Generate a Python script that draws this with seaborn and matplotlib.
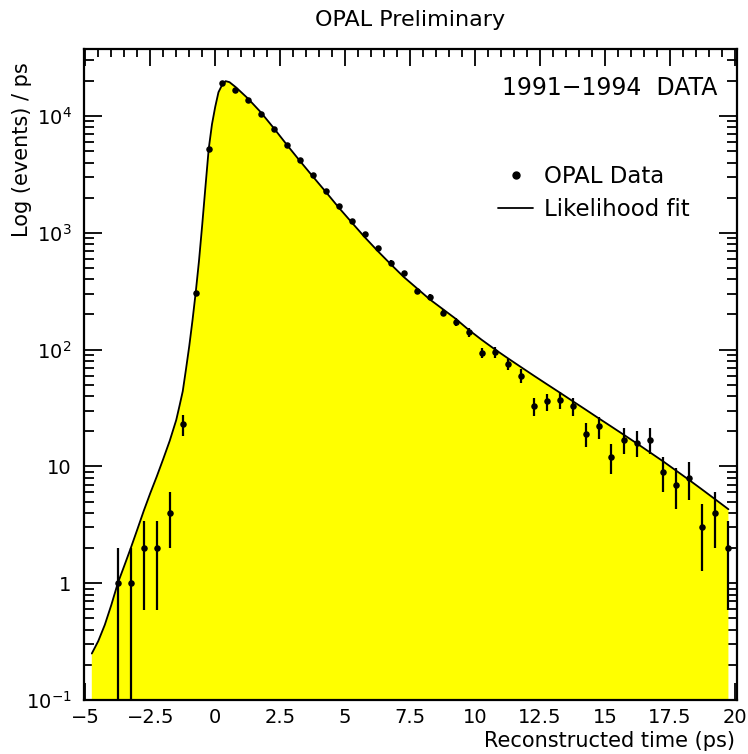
import numpy as np
import pandas as pd
import seaborn as sns
import matplotlib
matplotlib.use("Agg")
import matplotlib.pyplot as plt
from matplotlib.lines import Line2D
from matplotlib.ticker import FixedLocator, FixedFormatter, MultipleLocator, LogLocator, NullFormatter

# ---------------- data ----------------
data_time = [-3.75, -3.25, -2.75, -2.25, -1.75, -1.25, -0.75, -0.25, 0.25, 0.75,
             1.25, 1.75, 2.25, 2.75, 3.25, 3.75, 4.25, 4.75, 5.25, 5.75,
             6.25, 6.75, 7.25, 7.75, 8.25, 8.75, 9.25, 9.75, 10.25, 10.75,
             11.25, 11.75, 12.25, 12.75, 13.25, 13.75, 14.25, 14.75, 15.25, 15.75,
             16.25, 16.75, 17.25, 17.75, 18.25, 18.75, 19.25, 19.75]
data_counts = [1, 1, 2, 2, 4, 23, 303, 5250, 19000, 16800,
               13600, 10350, 7690, 5620, 4200, 3110, 2290, 1710, 1270, 980,
               745, 557, 449, 316, 281, 207, 173, 141, 94, 95,
               75, 60, 33, 36, 37, 33, 19, 22, 12, 17,
               16, 17, 9, 7, 8, 3, 4, 2]

fit_time = [-4.75, -4.5, -4.25, -4.0, -3.75, -3.5, -3.25, -3.0, -2.75, -2.5,
            -2.25, -2.0, -1.75, -1.5, -1.375, -1.25, -1.125, -1.0, -0.875, -0.75,
            -0.625, -0.5, -0.375, -0.25, -0.125, 0.0, 0.125, 0.25, 0.4, 0.55,
            0.8, 1.25, 1.75, 2.25, 2.75, 3.25, 3.75, 4.25, 4.75, 5.25,
            5.75, 6.25, 6.75, 7.25, 7.75, 8.25, 8.75, 9.25, 9.75, 10.25,
            10.75, 11.25, 11.75, 12.25, 12.75, 13.25, 13.75, 14.25, 14.75, 15.25,
            15.75, 16.25, 16.75, 17.25, 17.75, 18.25, 18.75, 19.25, 19.75]
fit_values = [0.25, 0.32, 0.44, 0.65, 1.0, 1.41, 2.0, 2.88, 4.17, 5.9,
              8.2, 11.6, 16.6, 25, 33, 44, 68, 107, 178, 310,
              575, 1175, 2500, 5250, 8500, 12000, 16000, 18200, 19900, 19500,
              17600, 14200, 10800, 7900, 5700, 4150, 3050, 2250, 1650, 1230,
              920, 700, 540, 420, 337, 270, 223, 184, 148, 121.6,
              101, 84.7, 71.3, 60.1, 50.8, 43, 36.3, 30.7, 25.9, 21.9,
              18.5, 15.6, 13.1, 11.0, 9.16, 7.62, 6.31, 5.21, 4.30]

x_ticks = [-5, -2.5, 0, 2.5, 5, 7.5, 10, 12.5, 15, 17.5, 20]
x_tick_labels = ["\u22125", "\u22122.5", "0", "2.5", "5", "7.5", "10", "12.5", "15", "17.5", "20"]
y_ticks = [0.1, 1, 10, 100, 1000, 10000]
y_tick_labels = [r"$10^{-1}$", "1", "10", r"$10^{2}$", r"$10^{3}$", r"$10^{4}$"]

# ---------------- style ----------------
sns.set_style("ticks", {"xtick.direction": "in", "ytick.direction": "in"})
plt.rcParams["font.family"] = ["DejaVu Sans"]
plt.rcParams["mathtext.fontset"] = "dejavusans"
plt.rcParams["mathtext.default"] = "regular"
plt.rcParams["text.color"] = "black"
plt.rcParams["axes.labelcolor"] = "black"
plt.rcParams["xtick.color"] = "black"
plt.rcParams["ytick.color"] = "black"

fig = plt.figure(figsize=(7.48, 7.54), dpi=100)
ax = fig.add_axes([84 / 748, 54 / 754, (737 - 84) / 748, (700 - 49) / 754])

df_data = pd.DataFrame({"time": data_time, "counts": data_counts})
df_data["err"] = np.sqrt(df_data["counts"])
df_fit = pd.DataFrame({"time": fit_time, "fit": fit_values})

ax.set_yscale("log")
ax.set_xlim(-5.05, 20.08)
ax.set_ylim(0.1, 3.75e4)

ax.fill_between(df_fit["time"], 1e-3, df_fit["fit"], color="#FFFF00", lw=0, zorder=1)
sns.lineplot(data=df_fit, x="time", y="fit", ax=ax, color="black", lw=1.3, zorder=3, legend=False)

lo = np.maximum(df_data["counts"] - df_data["err"], 1e-3)
hi = df_data["counts"] + df_data["err"]
ax.vlines(df_data["time"], lo, hi, color="black", lw=1.6, zorder=4)
sns.scatterplot(data=df_data, x="time", y="counts", ax=ax, color="black", s=22,
                edgecolor="black", linewidth=0, zorder=5, legend=False)

# ticks
ax.xaxis.set_major_locator(FixedLocator(x_ticks))
ax.xaxis.set_major_formatter(FixedFormatter(x_tick_labels))
ax.xaxis.set_minor_locator(MultipleLocator(0.5))
ax.yaxis.set_major_locator(FixedLocator(y_ticks))
ax.yaxis.set_major_formatter(FixedFormatter(y_tick_labels))
ax.yaxis.set_minor_locator(LogLocator(base=10, subs=np.arange(2, 10), numticks=20))
ax.yaxis.set_minor_formatter(NullFormatter())
ax.tick_params(which="both", direction="in", top=True, right=True, width=1.3, colors="black")
ax.tick_params(axis="x", which="major", length=12, labelsize=14, pad=6)
ax.tick_params(axis="x", which="minor", length=6)
ax.tick_params(axis="y", which="major", length=13, labelsize=14, pad=9)
ax.tick_params(axis="y", which="minor", length=7)
for s in ax.spines.values():
    s.set_linewidth(1.6)
    s.set_color("black")
    s.set_visible(True)

ax.set_xlabel("")
ax.set_ylabel("")
fig.text(735 / 748, 1 - 741 / 754, "Reconstructed time (ps)", ha="right", va="center", fontsize=15)
fig.text(22 / 748, 1 - 62 / 754, "Log (events) / ps", ha="center", va="top", rotation=90, fontsize=15)
fig.text(410 / 748, 1 - 20 / 754, "OPAL Preliminary", ha="center", va="center", fontsize=16)
fig.text(717 / 748, 1 - 88 / 754, "1991\u22121994  DATA", ha="right", va="center", fontsize=17)

handles = [Line2D([], [], marker="o", ls="none", color="black", ms=5),
           Line2D([], [], color="black", lw=1.3)]
ax.legend(handles, ["OPAL Data", "Likelihood fit"], frameon=False, loc="upper left",
          bbox_to_anchor=(487 / 748, 1 - 154 / 754), bbox_transform=fig.transFigure,
          fontsize=16.5, handlelength=1.5, handletextpad=0.5, labelspacing=0.4, borderpad=0)

fig.savefig("out.png", dpi=100)
